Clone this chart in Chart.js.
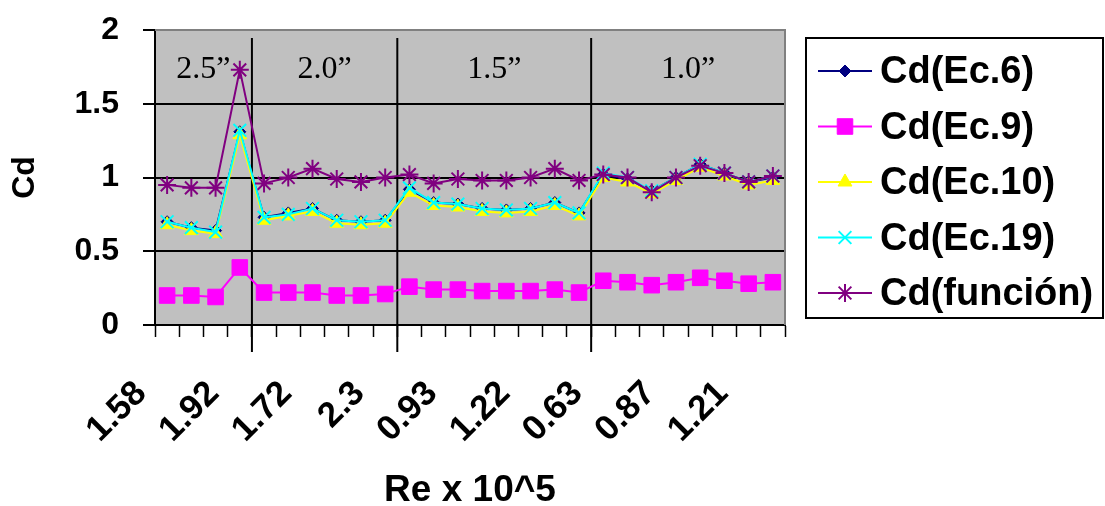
<!DOCTYPE html>
<html>
<head>
<meta charset="utf-8">
<script src="https://cdn.jsdelivr.net/npm/chart.js@4.4.1/dist/chart.umd.min.js"></script>
<style>
  body { margin: 0; background: #fff; }
  #wrap { width: 1105px; height: 506px; position: relative; }
</style>
</head>
<body>
<div id="wrap"><canvas id="cd"></canvas></div>
<script>
// Re x 10^5, only every third value is printed on the axis
const reLabels = ['1.58', '', '', '1.92', '', '', '1.72', '', '', '2.3', '', '', '0.93', '', '', '1.22', '', '', '0.63', '', '', '0.87', '', '', '1.21', ''];

// orifice diameter groups (number of runs in each)
const groupNames = ['2.5\u201D', '2.0\u201D', '1.5\u201D', '1.0\u201D'];
const groupSizes = [4, 6, 8, 8];

const cdEc6 = [0.70, 0.66, 0.64, 1.31, 0.73, 0.76, 0.79, 0.71, 0.70, 0.71, 0.92, 0.83, 0.82, 0.79, 0.78, 0.79, 0.83, 0.76, 1.02, 0.99, 0.91, 1.00, 1.09, 1.03, 0.97, 1.00];
const cdEc9 = [0.20, 0.20, 0.19, 0.39, 0.22, 0.22, 0.22, 0.20, 0.20, 0.21, 0.26, 0.24, 0.24, 0.23, 0.23, 0.23, 0.24, 0.22, 0.30, 0.29, 0.27, 0.29, 0.32, 0.30, 0.28, 0.29];
const cdEc10 = [0.68, 0.64, 0.62, 1.29, 0.71, 0.74, 0.77, 0.69, 0.68, 0.69, 0.90, 0.81, 0.80, 0.77, 0.76, 0.77, 0.81, 0.74, 1.00, 0.97, 0.89, 0.98, 1.07, 1.01, 0.95, 0.98];
const cdEc19 = [0.70, 0.66, 0.63, 1.32, 0.73, 0.75, 0.79, 0.71, 0.70, 0.71, 0.93, 0.83, 0.82, 0.79, 0.78, 0.79, 0.83, 0.76, 1.03, 1.00, 0.91, 1.00, 1.09, 1.03, 0.97, 1.01];
const cdFuncion = [0.95, 0.93, 0.93, 1.73, 0.96, 1.00, 1.06, 0.99, 0.97, 1.00, 1.02, 0.96, 0.99, 0.98, 0.98, 1.00, 1.06, 0.98, 1.02, 1.00, 0.90, 1.00, 1.08, 1.03, 0.97, 1.01];

Chart.defaults.font.family = '"Liberation Sans", Arial, sans-serif';
Chart.defaults.color = '#000';

function series(label, data, color, style, radius, lineW, order) {
  return {
    label: label,
    data: data,
    borderColor: color,
    backgroundColor: color,
    borderWidth: lineW,
    pointStyle: style,
    pointRadius: radius,
    pointHoverRadius: radius,
    pointBackgroundColor: color,
    pointBorderColor: color,
    pointBorderWidth: style === 'star' || style === 'crossRot' ? 2 : 1,
    tension: 0,
    order: order,
  };
}

// grey plot area, top/right frame, group separators and group names
const plotDecor = {
  id: 'plotDecor',
  beforeDraw(chart) {
    const { ctx, chartArea: a } = chart;
    ctx.save();
    ctx.fillStyle = '#c0c0c0';
    ctx.fillRect(a.left, a.top, a.right - a.left, a.bottom - a.top);
    ctx.restore();
  },
  beforeDatasetsDraw(chart) {
    const { ctx, chartArea: a, scales } = chart;
    const x = scales.x;
    const step = x.getPixelForValue(1) - x.getPixelForValue(0);
    ctx.save();
    ctx.strokeStyle = '#808080';
    ctx.lineWidth = 2;
    ctx.beginPath();
    ctx.moveTo(a.left, a.top);
    ctx.lineTo(a.right, a.top);
    ctx.lineTo(a.right, a.bottom);
    ctx.stroke();

    let start = 0;
    ctx.font = '32px "Liberation Serif", "Times New Roman", serif';
    ctx.textAlign = 'center';
    ctx.textBaseline = 'middle';
    ctx.fillStyle = '#000';
    groupSizes.forEach((n, g) => {
      const x0 = x.getPixelForValue(start) - step / 2;
      const x1 = x.getPixelForValue(start + n - 1) + step / 2;
      if (g > 0) {
        ctx.strokeStyle = '#000';
        ctx.beginPath();
        ctx.moveTo(x0, a.top + 8);
        ctx.lineTo(x0, a.bottom + 27);
        ctx.stroke();
      }
      ctx.fillText(groupNames[g], (x0 + x1) / 2, 70);
      start += n;
    });
    ctx.restore();
  },
};

// legend box at the right, drawn like the spreadsheet one
const sideLegend = {
  id: 'sideLegend',
  afterDraw(chart) {
    const { ctx } = chart;
    const left = 806, top = 38, w = 297, h = 280;
    ctx.save();
    ctx.strokeStyle = '#000';
    ctx.lineWidth = 2;
    ctx.strokeRect(left, top, w, h);
    ctx.font = 'bold 38px "Liberation Sans", Arial, sans-serif';
    ctx.textBaseline = 'middle';
    ctx.textAlign = 'left';
    chart.data.datasets.forEach((ds, i) => {
      const y = 71 + i * 55.5;
      ctx.strokeStyle = ds.borderColor;
      ctx.lineWidth = 2;
      ctx.beginPath();
      ctx.moveTo(818, y);
      ctx.lineTo(872, y);
      ctx.stroke();
      ctx.fillStyle = ds.pointBackgroundColor;
      ctx.strokeStyle = ds.pointBorderColor;
      ctx.lineWidth = ds.pointBorderWidth;
      Chart.helpers.drawPoint(ctx, {
        pointStyle: ds.pointStyle,
        radius: ds.pointRadius,
        rotation: 0,
        borderWidth: ds.pointBorderWidth,
      }, 845, y);
      ctx.fillStyle = '#000';
      ctx.fillText(ds.label, 880, y + 2);
    });
    ctx.restore();
  },
};

new Chart(document.getElementById('cd'), {
  type: 'line',
  data: {
    labels: reLabels,
    datasets: [
      series('Cd(Ec.6)', cdEc6, '#000080', 'rectRot', 6, 2, 4),
      series('Cd(Ec.9)', cdEc9, '#ff00ff', 'rect', 11, 2, 3),
      series('Cd(Ec.10)', cdEc10, '#ffff00', 'triangle', 8, 2, 2),
      series('Cd(Ec.19)', cdEc19, '#00ffff', 'crossRot', 9, 2, 1),
      series('Cd(funci\u00F3n)', cdFuncion, '#800080', 'star', 9, 2, 0),
    ],
  },
  options: {
    responsive: true,
    maintainAspectRatio: false,
    animation: false,
    layout: { padding: { top: 30, right: 320, left: 0, bottom: 0 } },
    plugins: {
      legend: { display: false },
      tooltip: { enabled: false },
    },
    scales: {
      x: {
        offset: true,
        afterFit: (s) => { s.height = 181; s.paddingLeft = 0; s.paddingRight = 0; },
        grid: { offset: true, drawOnChartArea: false, tickLength: 12, tickColor: '#000', tickWidth: 1.5 },
        border: { color: '#000', width: 2 },
        ticks: {
          autoSkip: false,
          minRotation: 45,
          maxRotation: 45,
          padding: 36,
          labelOffset: -26,
          font: { size: 35, weight: 'bold' },
        },
        title: {
          display: true,
          text: 'Re x 10^5',
          font: { size: 37, weight: 'bold', lineHeight: 1 },
          padding: { top: 0, bottom: -3 },
        },
      },
      y: {
        min: 0,
        max: 2,
        afterFit: (s) => { s.width = 155; s.paddingTop = 0; s.paddingBottom = 0; },
        ticks: {
          stepSize: 0.5,
          padding: 24,
          callback: (v) => String(v),
          font: { size: 32, weight: 'bold' },
        },
        grid: {
          color: (c) => (c.tick && c.tick.value === 2 ? '#808080' : '#000'),
          lineWidth: 2,
          tickLength: 12,
          tickColor: '#000',
        },
        border: { color: '#000', width: 2 },
        title: {
          display: true,
          text: 'Cd',
          font: { size: 32, weight: 'bold' },
          padding: { top: 6, bottom: 0 },
        },
      },
    },
  },
  plugins: [plotDecor, sideLegend],
});
</script>
</body>
</html>
